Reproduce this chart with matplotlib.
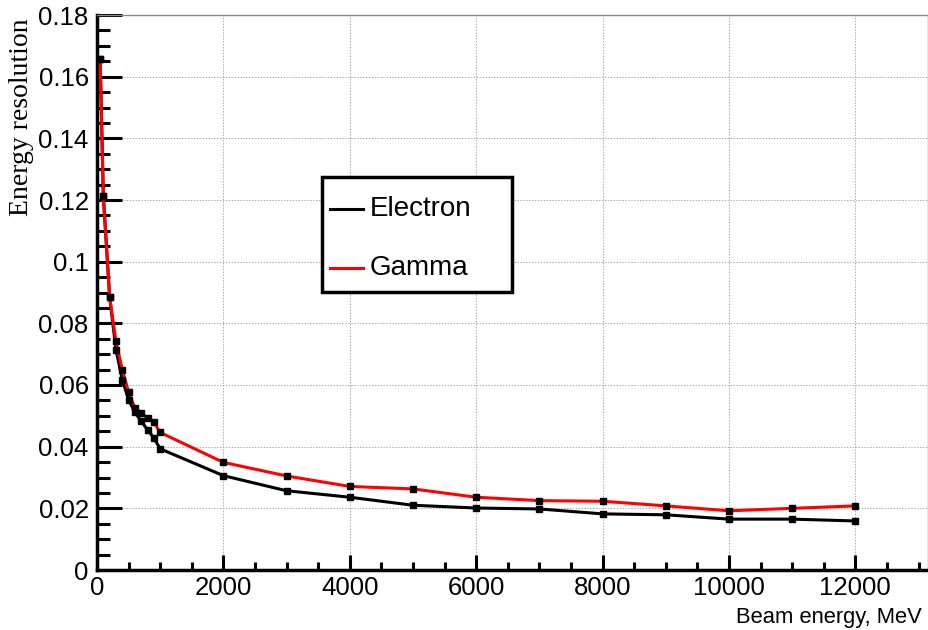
import matplotlib
matplotlib.use('Agg')
import matplotlib.pyplot as plt
from matplotlib.lines import Line2D
from matplotlib.patches import Rectangle
from matplotlib.ticker import MultipleLocator, FixedLocator

# beam energy points, MeV
energy = [50, 100, 200, 300, 400, 500, 600, 700, 800, 900, 1000,
          2000, 3000, 4000, 5000, 6000, 7000, 8000, 9000, 10000, 11000, 12000]

electron = [0.1657, 0.1213, 0.0886, 0.0715, 0.0617, 0.0552, 0.0511, 0.0482,
            0.0455, 0.0428, 0.0393,
            0.0306, 0.0257, 0.0236, 0.0210, 0.0201, 0.0198, 0.0182, 0.0179,
            0.0165, 0.0165, 0.0159]

gamma = [0.1657, 0.1213, 0.0886, 0.0742, 0.0650, 0.0577, 0.0525, 0.0509,
         0.0493, 0.0479, 0.0446,
         0.0349, 0.0305, 0.0271, 0.0263, 0.0236, 0.0225, 0.0223, 0.0208,
         0.0192, 0.0200, 0.0208]

y_ticks = [0, 0.02, 0.04, 0.06, 0.08, 0.1, 0.12, 0.14, 0.16, 0.18]
y_labels = ['0', '0.02', '0.04', '0.06', '0.08', '0.1', '0.12', '0.14', '0.16', '0.18']

SANS = 'Liberation Sans'
SERIF = 'Liberation Serif'
W, H = 929, 630

fig = plt.figure(figsize=(9.29, 6.3), dpi=100)
ax = fig.add_axes([97 / W, 60 / H, 831 / W, 555 / H])

ax.plot(energy, electron, color='black', lw=2.2, zorder=3)
ax.plot(energy, gamma, color='red', lw=2.2, zorder=4)
ax.plot(energy, electron, ls='none', marker='s', ms=5, color='black', zorder=5)
ax.plot(energy, gamma, ls='none', marker='s', ms=5, color='black', zorder=5)

ax.set_xlim(0, 13150)
ax.set_ylim(0, 0.18)

ax.xaxis.set_major_locator(MultipleLocator(2000))
ax.xaxis.set_minor_locator(MultipleLocator(500))
ax.yaxis.set_major_locator(FixedLocator(y_ticks))
ax.yaxis.set_minor_locator(MultipleLocator(0.005))
ax.set_yticklabels(y_labels)

ax.grid(True, which='major', color='#aaaaaa', ls=(0, (1.5, 1.5)), lw=0.7)
ax.set_axisbelow(True)

ax.tick_params(axis='y', which='major', direction='in', length=18, width=2.2,
               right=False, labelsize=18.5, pad=6)
ax.tick_params(axis='y', which='minor', direction='in', length=9, width=2.2, right=False)
ax.tick_params(axis='x', which='major', direction='in', length=11, width=2.2,
               top=False, labelsize=18.5, pad=4)
ax.tick_params(axis='x', which='minor', direction='in', length=6, width=2.2, top=False)
for lab in ax.get_xticklabels() + ax.get_yticklabels():
    lab.set_family(SANS)

for side in ('left', 'bottom'):
    ax.spines[side].set_linewidth(2.5)
    ax.spines[side].set_color('black')
for side in ('top', 'right'):
    ax.spines[side].set_linewidth(1.0)
    ax.spines[side].set_color('#888888')

fig.text(922 / W, 1 - 617 / H, 'Beam energy, MeV', ha='right', va='center',
         fontsize=15.8, family=SANS)
fig.text(22 / W, 1 - 18 / H, 'Energy resolution', rotation=90, ha='center', va='top',
         fontsize=20, family=SERIF)

# legend box, drawn by hand to get the ROOT-style spacing
fig.patches.append(Rectangle((322 / W, 1 - 292 / H), 190 / W, 115 / H,
                             transform=fig.transFigure, facecolor='white',
                             edgecolor='black', lw=2.5, zorder=10))
for label, color, ypix in [('Electron', 'black', 209), ('Gamma', 'red', 268)]:
    fig.add_artist(Line2D([330 / W, 363 / W], [1 - ypix / H] * 2,
                          transform=fig.transFigure, color=color, lw=2.2, zorder=11))
    fig.text(370 / W, 1 - ypix / H, label, ha='left', va='center',
             fontsize=20, family=SANS, zorder=11)

fig.savefig('out.png', dpi=100)
